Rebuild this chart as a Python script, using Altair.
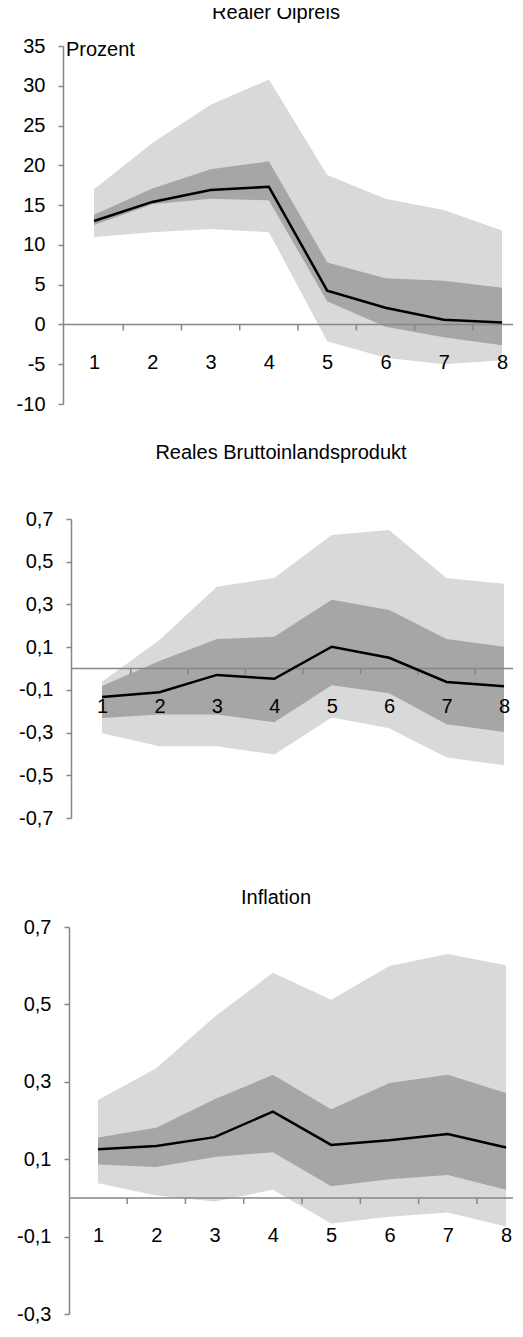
import altair as alt
import pandas as pd

FONT = "Liberation Sans"
AXIS_GRAY = "#868686"
LIGHT = "#d9d9d9"
DARK = "#a6a6a6"
FS = 20

steps = [1, 2, 3, 4, 5, 6, 7, 8]
tick_between = [1.5, 2.5, 3.5, 4.5, 5.5, 6.5, 7.5]

# Realer Ölpreis
oil_line = [13.0, 15.4, 16.9, 17.3, 4.25, 2.1, 0.6, 0.25]
oil_dark_hi = [13.8, 17.1, 19.5, 20.5, 7.8, 5.8, 5.5, 4.6]
oil_dark_lo = [12.5, 15.1, 15.8, 15.6, 2.9, -0.3, -1.6, -2.6]
oil_light_hi = [17.0, 22.8, 27.6, 30.8, 18.8, 15.8, 14.4, 11.8]
oil_light_lo = [11.0, 11.6, 12.0, 11.6, -2.1, -4.2, -5.0, -4.5]
oil_ticks = [-10, -5, 0, 5, 10, 15, 20, 25, 30, 35]

# Reales Bruttoinlandsprodukt
gdp_line = [-0.133, -0.111, -0.030, -0.048, 0.102, 0.05, -0.063, -0.083]
gdp_dark_hi = [-0.082, 0.035, 0.138, 0.149, 0.322, 0.274, 0.138, 0.102]
gdp_dark_lo = [-0.232, -0.215, -0.215, -0.252, -0.079, -0.116, -0.261, -0.297]
gdp_light_hi = [-0.062, 0.133, 0.383, 0.424, 0.625, 0.648, 0.422, 0.397]
gdp_light_lo = [-0.303, -0.364, -0.364, -0.403, -0.230, -0.280, -0.417, -0.453]
gdp_ticks = [-0.7, -0.5, -0.3, -0.1, 0.1, 0.3, 0.5, 0.7]

# Inflation
inf_line = [0.126, 0.134, 0.157, 0.223, 0.137, 0.149, 0.165, 0.130]
inf_dark_hi = [0.156, 0.181, 0.255, 0.318, 0.229, 0.297, 0.318, 0.271]
inf_dark_lo = [0.086, 0.080, 0.106, 0.118, 0.030, 0.048, 0.059, 0.021]
inf_light_hi = [0.253, 0.335, 0.468, 0.582, 0.512, 0.599, 0.630, 0.601]
inf_light_lo = [0.038, 0.006, -0.009, 0.021, -0.066, -0.049, -0.038, -0.074]
inf_ticks = [-0.3, -0.1, 0.1, 0.3, 0.5, 0.7]

W = 442
EXTENT = 62


def panel(title, line, dhi, dlo, lhi, llo, ydom, yticks, xdom, height,
          yoff, title_x, title_y, prozent=False):
    df = pd.DataFrame({"x": steps, "line": line, "dhi": dhi, "dlo": dlo,
                       "lhi": lhi, "llo": llo})
    tdf = pd.DataFrame({"t": tick_between, "z": [0] * len(tick_between)})
    zero_px = height * (0 - ydom[0]) / (ydom[1] - ydom[0])
    zero_from_top = height - zero_px
    xs = alt.Scale(domain=xdom, nice=False, zero=False)
    ys = alt.Scale(domain=ydom, nice=False, zero=False)
    xaxis = alt.Axis(values=steps, ticks=False, grid=False, domain=False,
                     labelPadding=28, offset=-zero_px, zindex=1,
                     title=None, labelFontSize=FS, labelFont=FONT, labelColor="black",
                     labelFlush=False, labelBaseline="top", labelOverlap=False,
                     labelExpr="datum.value + ''")
    yaxis = alt.Axis(values=yticks, grid=False, domainColor=AXIS_GRAY, domainWidth=1.5,
                     tickColor=AXIS_GRAY, tickWidth=1.5, tickSize=5, labelPadding=13,
                     labelFontSize=FS, labelFont=FONT, labelColor="black",
                     minExtent=EXTENT, maxExtent=EXTENT, offset=yoff,
                     title=None, labelFlush=False, labelOverlap=False,
                     labelSeparation=-30,
                     labelExpr="replace(datum.value + '', '.', ',')")
    base = alt.Chart(df)
    light = base.mark_area(color=LIGHT, opacity=1).encode(
        x=alt.X("x:Q", scale=xs, axis=xaxis),
        y=alt.Y("llo:Q", scale=ys, axis=yaxis),
        y2="lhi:Q",
    )
    dark = base.mark_area(color=DARK, opacity=1).encode(
        x=alt.X("x:Q", scale=xs, axis=xaxis),
        y=alt.Y("dlo:Q", scale=ys, axis=yaxis),
        y2="dhi:Q",
    )
    zdf = pd.DataFrame({"z": [0]})
    zero = alt.Chart(zdf).mark_rule(color=AXIS_GRAY, strokeWidth=1.5).encode(
        y=alt.Y("z:Q", scale=ys, axis=yaxis), x=alt.value(-yoff), x2=alt.value(W)
    )
    ticks = alt.Chart(tdf).mark_rule(color=AXIS_GRAY, strokeWidth=1.5).encode(
        x=alt.X("t:Q", scale=xs, axis=xaxis), y=alt.Y("z:Q", scale=ys, axis=yaxis),
        y2=alt.value(zero_from_top + 6)
    )
    ln = base.mark_line(color="black", strokeWidth=2.5).encode(
        x=alt.X("x:Q", scale=xs, axis=xaxis),
        y=alt.Y("line:Q", scale=ys, axis=yaxis),
    )
    ttl = alt.Chart(pd.DataFrame({"t": [title]})).mark_text(
        align="center", baseline="middle", fontSize=FS, font=FONT, color="black"
    ).encode(x=alt.value(title_x), y=alt.value(title_y), text="t:N")
    layers = [light, dark, zero, ticks, ln, ttl]
    if prozent:
        pt = alt.Chart(pd.DataFrame({"lab": ["Prozent"], "v": [ydom[1]]})).mark_text(
            align="left", baseline="middle", dx=0, dy=4, fontSize=FS, font=FONT,
            color="black").encode(x=alt.value(-yoff + 3),
                                  y=alt.Y("v:Q", scale=ys, axis=yaxis), text="lab:N")
        layers.append(pt)
    return alt.layer(*layers).properties(width=W, height=height)


p1 = panel("Realer Ölpreis", oil_line, oil_dark_hi, oil_dark_lo, oil_light_hi,
           oil_light_lo, [-10, 35], oil_ticks, [0.605, 8.188], 358, 8, 205, -33,
           prozent=True)
p2 = panel("Reales Bruttoinlandsprodukt", gdp_line, gdp_dark_hi, gdp_dark_lo,
           gdp_light_hi, gdp_light_lo, [-0.7, 0.7], gdp_ticks, [0.460, 8.156], 299,
           0, 210, -66)
p3 = panel("Inflation", inf_line, inf_dark_hi, inf_dark_lo, inf_light_hi, inf_light_lo,
           [-0.3, 0.7], inf_ticks, [0.537, 8.119], 387, 2, 205, -29)

top = alt.vconcat(p1, p2, spacing=29)
chart = alt.vconcat(top, p3, spacing=60).properties(
    padding={"left": -7, "top": -5, "right": 0, "bottom": 0}
).configure(background="white").configure_view(
    stroke="transparent", strokeWidth=0, strokeOpacity=0
)

chart.save("out.html", embed_options={"renderer": "svg", "actions": False})
